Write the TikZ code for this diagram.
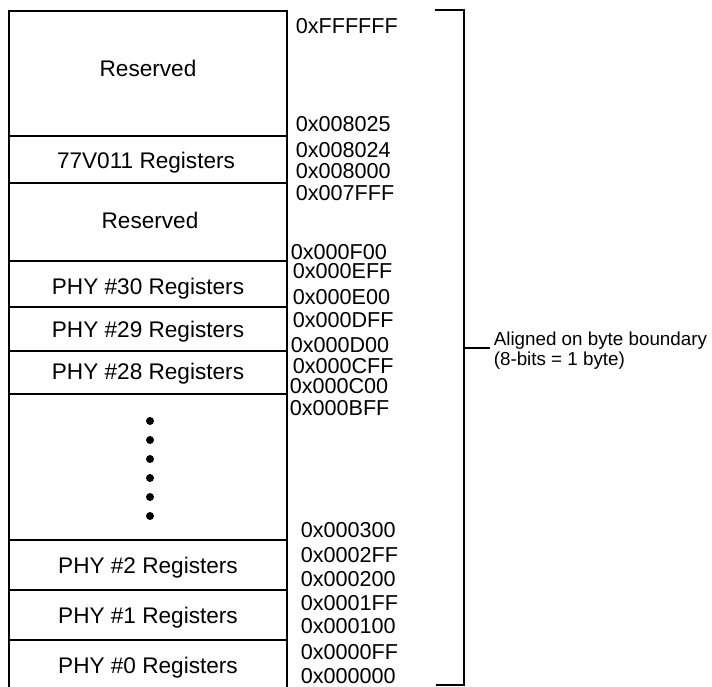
\documentclass[tikz,border=0pt]{standalone}
\usepackage{fontspec}
\setmainfont{Liberation Sans}
\usetikzlibrary{positioning}
\tikzset{lbl/.style = {anchor=base, inner sep=0, font=\fontsize{11.3}{13}\selectfont}}
\tikzset{addr/.style = {anchor=base west, inner sep=0, font=\fontsize{10.8}{12}\selectfont}}
\tikzset{note/.style = {anchor=north west, inner sep=1.5pt, align=left, font=\fontsize{9.4}{10}\selectfont}}
\tikzset{circ/.style = {fill, circle, inner sep=0, minimum size=4pt}}

\begin{document}
\begin{tikzpicture}[x=0.5pt, y=-0.5pt, line width=0.8pt]
    \useasboundingbox (0,0) rectangle (712,686);

    % memory map column
    \draw (9,700) -- (9,11) -- (287,11) -- (287,700);
    \foreach \y in {136,183,261,307,351,394,540,590,640}
        \draw (9,\y) -- (287,\y);

    \node [lbl] (res1) at (148,76) {Reserved};
    \node [lbl] (regs) at (146,168) {77V011 Registers};
    \node [lbl] (res2) at (150,228) {Reserved};
    \node [lbl] (phy30) at (148,294) {PHY \#30 Registers};
    \node [lbl] (phy29) at (148,337) {PHY \#29 Registers};
    \node [lbl] (phy28) at (148,379) {PHY \#28 Registers};
    \node [lbl] (phy2) at (148,573) {PHY \#2 Registers};
    \node [lbl] (phy1) at (148,623) {PHY \#1 Registers};
    \node [lbl] (phy0) at (148,673) {PHY \#0 Registers};

    \foreach \y [count=\i] in {421,440,459,478,497,516}
        \node [circ] (dot\i) at (150,\y) {};

    % addresses
    \foreach \x/\y/\t [count=\i] in {295/33/FFFFFF, 295/131/008025, 295/157/008024,
            295/178/008000, 295/200/007FFF, 290/259/000F00, 292/278/000EFF,
            292/304/000E00, 292/327/000DFF, 290/352/000D00, 292/373/000CFF,
            289/393/000C00, 289/415/000BFF, 300/537/000300, 300/562/0002FF,
            300/586/000200, 300/610/0001FF, 300/633/000100, 300/659/0000FF,
            300/683/000000}
        \node [addr] (a\i) at (\x,\y) {0x\t};

    % bracket
    \coordinate (btop) at (435,10);
    \coordinate (bbot) at (436,685);
    \coordinate (tick) at (464,348);
    \draw (btop) -- (464,10) -- (464,685) -- (bbot);
    \node [note] (align) at (490,328.5) {Aligned on byte boundary\\(8-bits = 1 byte)};
    \draw (tick) -- (tick -| align.west);
\end{tikzpicture}
\end{document}
